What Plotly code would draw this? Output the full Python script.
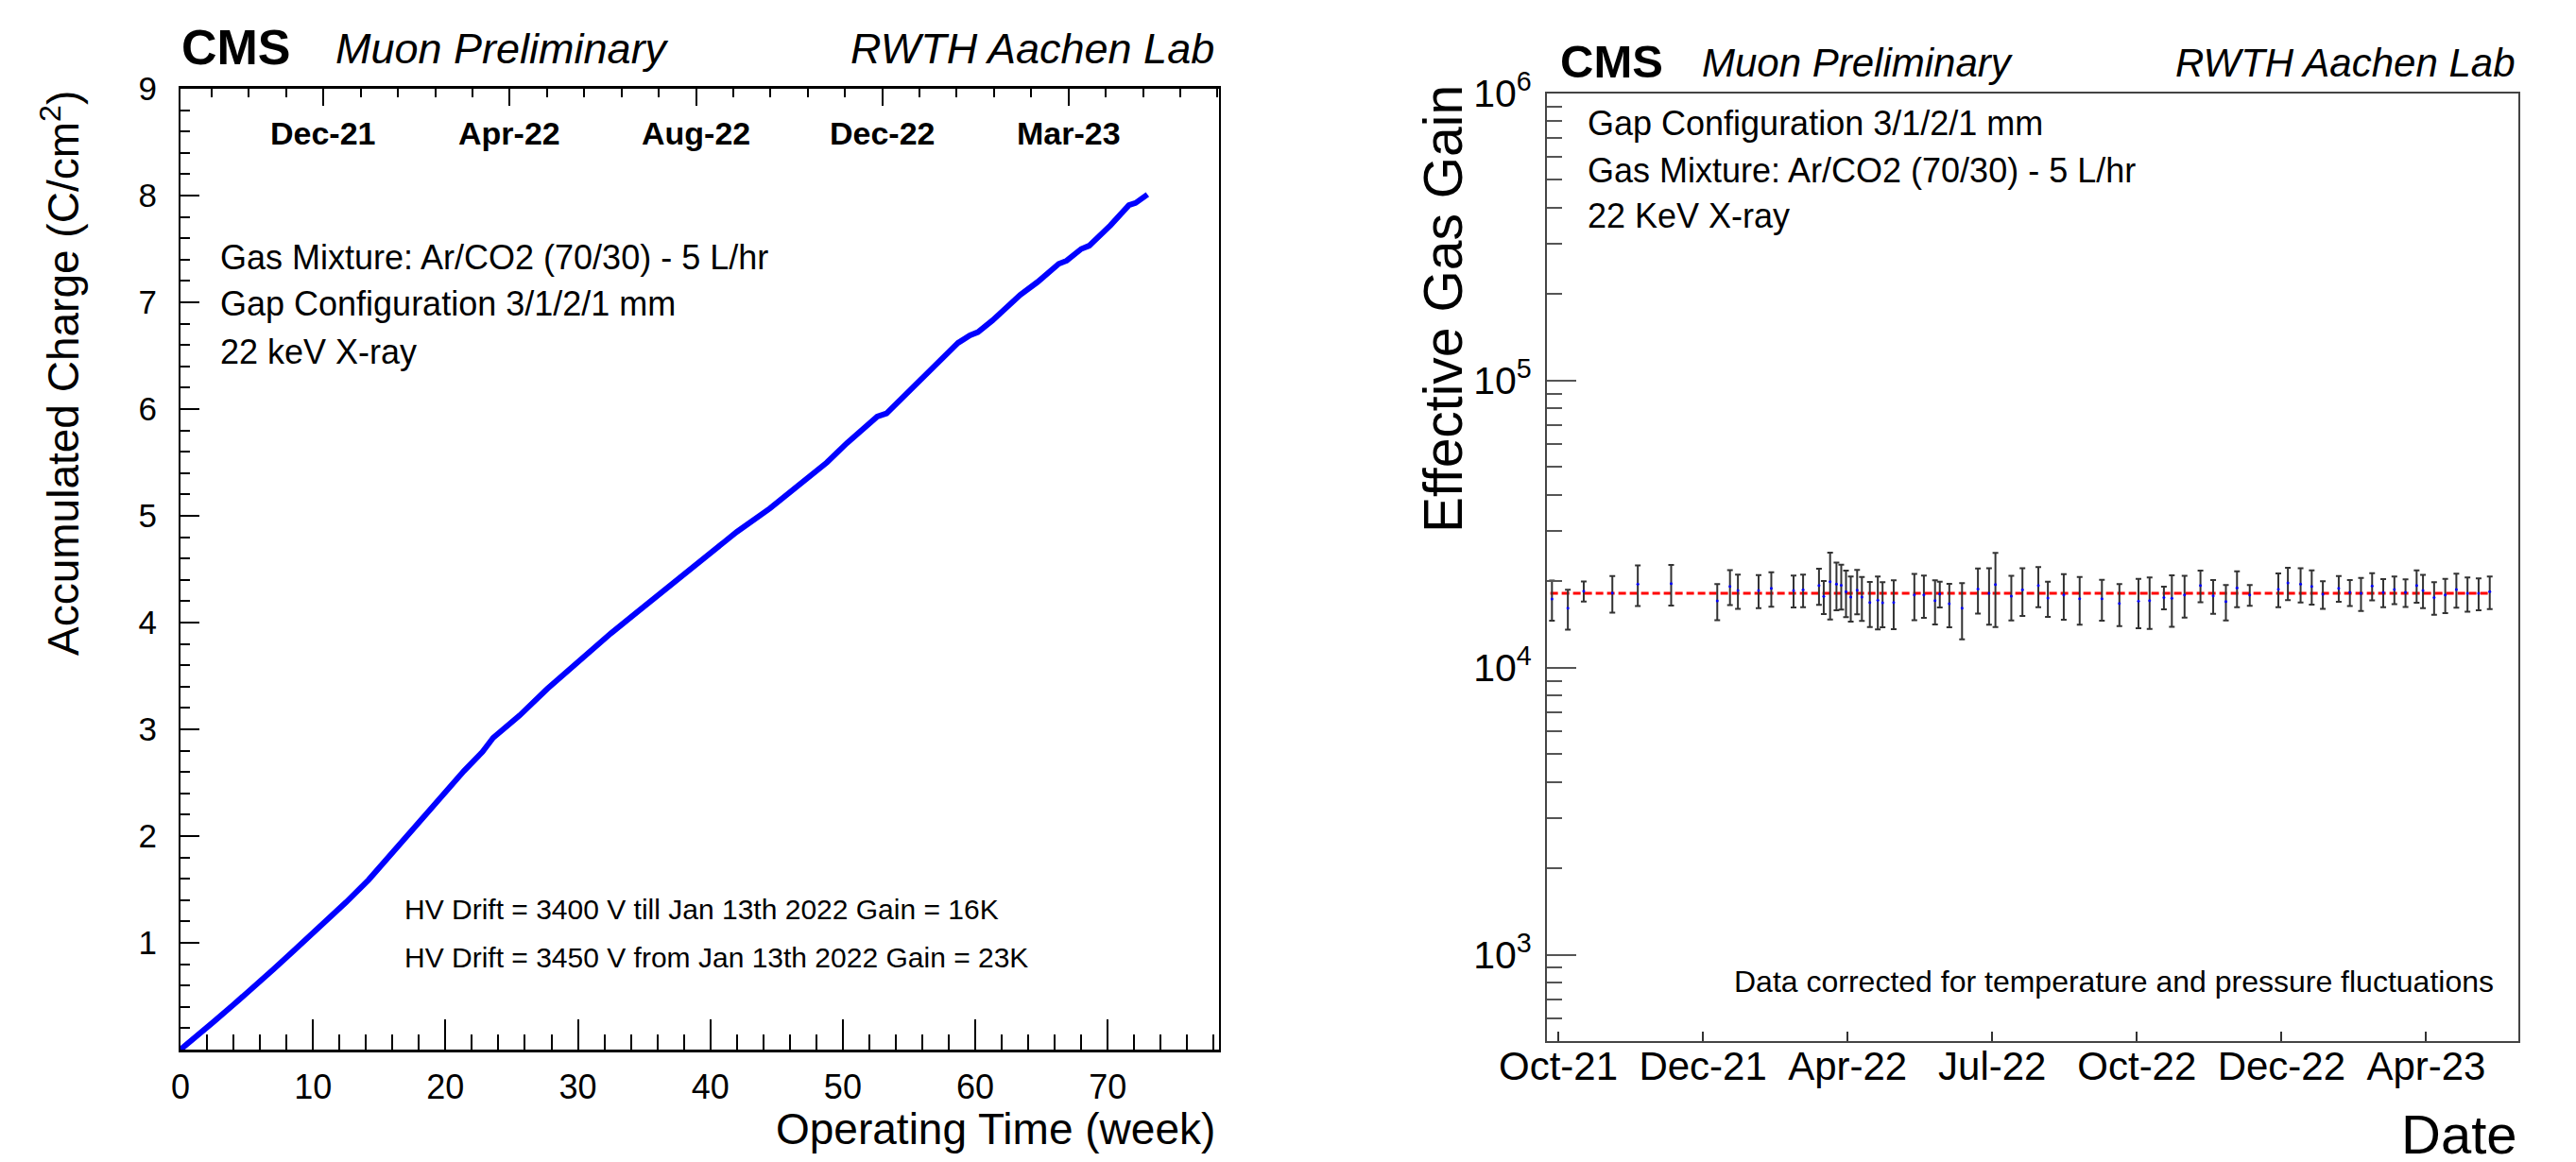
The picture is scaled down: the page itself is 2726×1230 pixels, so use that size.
import plotly.graph_objects as go

W, H = 2726, 1230
FONT = "Liberation Sans, Arial, Helvetica, sans-serif"

# ---------------- Left panel: accumulated charge ----------------
weeks = [0, 1, 2.5, 4, 5.3, 7, 8.5, 10, 11, 12.5, 14.2, 15.5, 17.2, 19, 21.4, 22.8,
         23.6, 24.2, 25.6, 27.7, 29.9, 32.5, 34.5, 36.3, 38, 39.8, 42, 44.5, 47.1,
         48.8, 50.3, 52.6, 53.3, 55.8, 58.7, 59.6, 60.2, 61.3, 63.4, 64.7, 66.3,
         66.9, 68.0, 68.6, 70.2, 71.6, 72.1, 73.0]
charge = [0, 0.10, 0.26, 0.42, 0.57, 0.75, 0.92, 1.09, 1.20, 1.38, 1.59, 1.77, 2.01,
          2.27, 2.61, 2.79, 2.92, 2.98, 3.13, 3.38, 3.62, 3.90, 4.10, 4.28, 4.46,
          4.64, 4.85, 5.07, 5.33, 5.50, 5.68, 5.93, 5.96, 6.27, 6.62, 6.69, 6.72,
          6.83, 7.07, 7.19, 7.36, 7.39, 7.50, 7.53, 7.72, 7.91, 7.93, 8.01]

left_xticks = [0, 10, 20, 30, 40, 50, 60, 70]
left_yticks = [1, 2, 3, 4, 5, 6, 7, 8, 9]
top_date_weeks = [10.8, 24.86, 38.92, 52.98, 67.04]
top_date_labels = ["Dec-21", "Apr-22", "Aug-22", "Dec-22", "Mar-23"]
top_minor_weeks = [2.36, 5.17, 7.99, 13.61, 16.42, 19.24, 22.05, 27.67, 30.48, 33.30,
                   36.11, 41.73, 44.54, 47.36, 50.17, 55.79, 58.60, 61.42, 64.23,
                   69.85, 72.66, 75.48, 78.29]

# ---------------- Right panel: effective gas gain ----------------
dates = ["2021-09-27", "2021-10-07", "2021-10-17", "2021-11-04", "2021-11-20", "2021-12-11",
         "2022-01-09", "2022-01-17", "2022-01-22", "2022-02-04", "2022-02-12", "2022-02-26",
         "2022-03-04", "2022-03-14", "2022-03-17", "2022-03-21", "2022-03-25", "2022-03-28",
         "2022-03-31", "2022-04-03", "2022-04-07", "2022-04-10", "2022-04-15", "2022-04-20",
         "2022-04-23", "2022-04-30", "2022-05-13", "2022-05-19", "2022-05-26", "2022-05-29",
         "2022-06-04", "2022-06-12", "2022-06-22", "2022-06-29", "2022-07-03", "2022-07-13",
         "2022-07-20", "2022-07-30", "2022-08-05", "2022-08-15", "2022-08-25", "2022-09-08",
         "2022-09-19", "2022-10-01", "2022-10-08", "2022-10-17", "2022-10-22", "2022-10-30",
         "2022-11-09", "2022-11-17", "2022-11-25", "2022-12-02", "2022-12-10", "2022-12-28",
         "2023-01-03", "2023-01-11", "2023-01-18", "2023-01-25", "2023-02-04", "2023-02-11",
         "2023-02-18", "2023-02-25", "2023-03-04", "2023-03-11", "2023-03-18", "2023-03-25",
         "2023-03-29", "2023-04-05", "2023-04-12", "2023-04-19", "2023-04-26", "2023-05-03",
         "2023-05-10"]
gain = [17340, 16120, 18470, 18200, 19530, 19630, 17080, 19190, 18570, 18570, 18900, 18570,
        18660, 19330, 17700, 19930, 19530, 19380, 18380, 17610, 18610, 17610, 16870, 17170,
        16830, 16870, 17920, 17920, 17130, 18060, 16700, 16120, 18800, 18150, 19480, 17740,
        18660, 19330, 17480, 17920, 17390, 17390, 16740, 17040, 17130, 17560, 17430, 17920,
        19330, 17790, 17000, 18950, 17920, 18760, 19730, 19530, 19190, 18010, 18900, 18290,
        18150, 19240, 18290, 18710, 18290, 19330, 18570, 17560, 17920, 18710, 18150, 18150,
        18380]
gain_err = [2755, 2560, 1495, 2655, 3155, 3165, 2460, 2675, 2535, 2455, 2590, 2375,
            2415, 2795, 2330, 5220, 3685, 3440, 3395, 3150, 3280, 3070, 3030, 3585,
            3005, 3260, 3300, 3025, 3005, 1860, 2880, 3570, 3365, 4035, 5625, 3130,
            3520, 3090, 2455, 3230, 3280, 2830, 2795, 3330, 3495, 1595, 3545, 2970,
            2450, 2390, 2410, 2710, 1485, 2520, 2560, 2660, 2620, 2000, 1950, 1905,
            2400, 2100, 2045, 2070, 2015, 2505, 2465, 2270, 2450, 2545, 2480, 2325,
            2400]
fit_gain = 18150
fit_dates = ["2021-09-26", "2023-05-10"]

right_tick_dates = ["2021-10-01", "2021-12-31", "2022-04-01", "2022-07-01",
                    "2022-09-30", "2022-12-30", "2023-03-31"]
right_tick_labels = ["Oct-21", "Dec-21", "Apr-22", "Jul-22", "Oct-22", "Dec-22", "Apr-23"]
right_yticks = [1e3, 1e4, 1e5, 1e6]
right_ytick_labels = ["10<sup>3</sup>", "10<sup>4</sup>", "10<sup>5</sup>", "10<sup>6</sup>"]
right_yminor = [m * 10 ** e for e in (2, 3, 4, 5) for m in range(2, 10) if m * 10 ** e >= 500]


def px(x):
    return x / W


def py(y):
    return 1 - y / H


fig = go.Figure()

fig.add_trace(go.Scatter(x=weeks, y=charge, mode="lines",
                         line=dict(color="#0000ff", width=6), xaxis="x", yaxis="y"))

fig.add_trace(go.Scatter(x=fit_dates, y=[fit_gain, fit_gain], mode="lines",
                         line=dict(color="#ff0000", width=3, dash="8px,4px"),
                         xaxis="x2", yaxis="y2"))
fig.add_trace(go.Scatter(x=dates, y=gain, mode="markers",
                         marker=dict(color="#0000ff", size=3),
                         error_y=dict(type="data", array=gain_err, visible=True,
                                      color="#333333", thickness=2, width=3),
                         xaxis="x2", yaxis="y2"))

# invisible trace so the top date axis of the left panel is drawn
fig.add_trace(go.Scatter(x=[0], y=[0], mode="markers", marker=dict(opacity=0),
                         xaxis="x3", yaxis="y", hoverinfo="skip"))

axis_font = dict(family=FONT, color="black")

fig.update_layout(
    width=W, height=H,
    margin=dict(l=0, r=0, t=0, b=0, autoexpand=False),
    paper_bgcolor="white", plot_bgcolor="white",
    showlegend=False,
    font=dict(family=FONT, color="black"),
    xaxis=dict(domain=[px(191), px(1290)], range=[0, 78.4], anchor="y",
               tickvals=left_xticks, ticks="inside", ticklen=32, tickwidth=1.5,
               tickcolor="black", showgrid=False, zeroline=False,
               showline=True, linecolor="black", linewidth=2.5, mirror=True,
               tickfont=dict(size=36, **axis_font), ticklabelstandoff=6,
               minor=dict(dtick=2, ticks="inside", ticklen=16, tickwidth=1.5,
                          tickcolor="black", showgrid=False)),
    xaxis3=dict(range=[0, 78.4], overlaying="x", side="top", anchor="y",
                tickvals=top_date_weeks, ticks="inside", ticklen=18, tickwidth=1.5,
                tickcolor="black", showticklabels=False, showgrid=False,
                zeroline=False, showline=False,
                minor=dict(tickvals=top_minor_weeks, ticks="inside", ticklen=9,
                           tickwidth=1.5, tickcolor="black", showgrid=False)),
    yaxis=dict(domain=[py(1111), py(94)], range=[0, 9], anchor="x",
               tickvals=left_yticks, ticks="inside", ticklen=20, tickwidth=1.5,
               tickcolor="black", showgrid=False, zeroline=False,
               showline=True, linecolor="black", linewidth=2, mirror=True,
               tickfont=dict(size=35, **axis_font), ticklabelstandoff=16,
               minor=dict(dtick=0.2, ticks="inside", ticklen=10, tickwidth=1.5,
                          tickcolor="black", showgrid=False)),
    xaxis2=dict(domain=[px(1637), px(2665)], type="date",
                range=["2021-09-23 20:00", "2023-05-28"], anchor="y2",
                tickvals=right_tick_dates, ticktext=right_tick_labels,
                ticks="inside", ticklen=10, tickwidth=1.5, tickcolor="#333333",
                showgrid=False, zeroline=False, showline=True, linecolor="#444444",
                linewidth=2, mirror=True, tickfont=dict(size=42, **axis_font),
                ticklabelstandoff=-11),
    yaxis2=dict(domain=[py(1102), py(99)], type="log", range=[2.69897, 6], anchor="x2",
                tickvals=right_yticks, ticktext=right_ytick_labels,
                ticks="inside", ticklen=31, tickwidth=2, tickcolor="#555555",
                showgrid=False, zeroline=False, showline=True, linecolor="#444444",
                linewidth=2, mirror=True, tickfont=dict(size=41, **axis_font),
                ticklabelstandoff=6,
                minor=dict(tickvals=right_yminor, ticks="inside", ticklen=16,
                           tickwidth=2, tickcolor="#555555", showgrid=False)),
)

ann = []


def add_text(text, x, y, size, xanchor="left", yanchor="middle", angle=0):
    ann.append(dict(text=text, x=px(x), y=py(y), xref="paper", yref="paper",
                    xanchor=xanchor, yanchor=yanchor, showarrow=False,
                    textangle=angle, font=dict(family=FONT, size=size, color="black")))


# left panel header
add_text("<b>CMS</b>", 190, 50, 52)
add_text("<i>Muon Preliminary</i>", 353, 52, 45)
add_text("<i>RWTH Aachen Lab</i>", 1287, 52, 45, xanchor="right")
# left panel info
add_text("Gas Mixture: Ar/CO2 (70/30) - 5 L/hr", 231, 272, 36)
add_text("Gap Configuration 3/1/2/1 mm", 231, 322, 36)
add_text("22 keV X-ray", 231, 373, 36)
add_text("HV Drift = 3400 V till Jan 13th 2022 Gain = 16K", 426, 962, 30)
add_text("HV Drift = 3450 V from Jan 13th 2022 Gain = 23K", 426, 1013, 30)
# left axis titles
add_text("Operating Time (week)", 1288, 1195, 46, xanchor="right")
add_text("Accumulated Charge (C/cm<sup>2</sup>)", 64, 94, 46, xanchor="center",
         yanchor="top", angle=-90)

# date labels on top axis of the left panel
for wk, lab in zip(top_date_weeks, top_date_labels):
    ann.append(dict(text="<b>" + lab + "</b>", x=wk, y=py(141), xref="x", yref="paper",
                    xanchor="center", yanchor="middle", showarrow=False,
                    font=dict(family=FONT, size=34, color="black")))

# right panel header
add_text("<b>CMS</b>", 1649, 65, 49)
add_text("<i>Muon Preliminary</i>", 1799, 67, 42)
add_text("<i>RWTH Aachen Lab</i>", 2664, 67, 42, xanchor="right")
# right panel info
add_text("Gap Configuration 3/1/2/1 mm", 1678, 130, 36)
add_text("Gas Mixture: Ar/CO2 (70/30) - 5 L/hr", 1678, 180, 36)
add_text("22 KeV X-ray", 1678, 229, 36)
add_text("Data corrected for temperature and pressure fluctuations", 2641, 1039, 32,
         xanchor="right")
# right axis titles
add_text("Date", 2666, 1200, 58, xanchor="right")
add_text("Effective Gas Gain", 1527, 88, 57, xanchor="center", yanchor="top", angle=-90)

fig.update_layout(annotations=ann)

fig.write_html("out.html")
